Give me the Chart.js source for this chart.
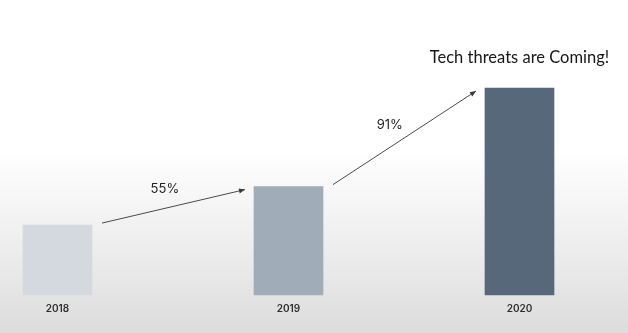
<!DOCTYPE html>
<html>
<head>
<meta charset="utf-8">
<script src="https://cdn.jsdelivr.net/npm/chart.js@4.4.1/dist/chart.umd.min.js"></script>
<style>
  html, body { margin: 0; padding: 0; }
  body {
    width: 628px; height: 333px; overflow: hidden;
    background: linear-gradient(to bottom, #ffffff 0px, #ffffff 150px, #e9e9e9 270px, #dcdcdc 333px);
  }
  #wrap { position: relative; width: 628px; height: 333px; }
</style>
</head>
<body>
<div id="wrap"><canvas id="c" width="628" height="333"></canvas></div>
<script>
const categories = ['2018', '2019', '2020'];
const values = [100, 155, 296];
const growthLabels = ['55%', '91%'];
const headline = 'Tech threats are Coming!';
const barTopColors = ['#d4d9df', '#a0acb7', '#56687a'];
const barBottomColors = ['#c9ced4', '#8d99a4', '#4b5b6b'];

function barGradient(ctx) {
  const chart = ctx.chart;
  const area = chart.chartArea;
  const i = ctx.dataIndex;
  if (!area || i === undefined) return barTopColors[i || 0];
  const meta = chart.getDatasetMeta(0);
  const el = meta.data[i];
  const top = el ? el.y : area.top;
  const bottom = el ? el.base : area.bottom;
  if (!isFinite(top) || !isFinite(bottom) || top === bottom) return barTopColors[i];
  const g = chart.ctx.createLinearGradient(0, top, 0, bottom);
  g.addColorStop(0, barTopColors[i]);
  g.addColorStop(1, barBottomColors[i]);
  return g;
}

const annotate = {
  id: 'annotate',
  afterDatasetsDraw(chart) {
    const ctx = chart.ctx;
    const bars = chart.getDatasetMeta(0).data;
    ctx.save();
    for (let i = 0; i < bars.length - 1; i++) {
      const a = bars[i], b = bars[i + 1];
      const x1 = a.x + a.width / 2 + 10, y1 = a.y - 2;
      const x2 = b.x - b.width / 2 - 9, y2 = b.y + 3;
      ctx.strokeStyle = '#4a4a4a';
      ctx.fillStyle = '#3a3a3a';
      ctx.lineWidth = 1;
      ctx.beginPath();
      ctx.moveTo(x1, y1);
      ctx.lineTo(x2, y2);
      ctx.stroke();
      const ang = Math.atan2(y2 - y1, x2 - x1);
      const L = 6, W = 2.5;
      ctx.beginPath();
      ctx.moveTo(x2, y2);
      ctx.lineTo(x2 - L * Math.cos(ang) + W * Math.sin(ang), y2 - L * Math.sin(ang) - W * Math.cos(ang));
      ctx.lineTo(x2 - L * Math.cos(ang) - W * Math.sin(ang), y2 - L * Math.sin(ang) + W * Math.cos(ang));
      ctx.closePath();
      ctx.fill();
      const len = Math.hypot(x2 - x1, y2 - y1);
      const dx = (x2 - x1) / len, dy = (y2 - y1) / len;
      const t = 0.47, off = 19;
      const px = x1 + (x2 - x1) * t + dy * off;
      const py = y1 + (y2 - y1) * t - dx * off;
      ctx.font = '13px Inter, "Noto Sans", sans-serif';
      ctx.fillStyle = '#1f1f1f';
      ctx.textAlign = 'center';
      ctx.textBaseline = 'middle';
      ctx.fillText(growthLabels[i], px, py);
    }
    const last = bars[bars.length - 1];
    ctx.font = '16.5px Lato, "Open Sans", sans-serif';
    ctx.fillStyle = '#161616';
    ctx.textAlign = 'center';
    ctx.textBaseline = 'middle';
    ctx.fillText(headline, last.x, last.y - 30);
    ctx.restore();
  }
};

new Chart(document.getElementById('c'), {
  type: 'bar',
  data: {
    labels: categories,
    datasets: [{
      data: values,
      backgroundColor: barGradient,
      borderWidth: 0,
      barThickness: 69,
      clip: false
    }]
  },
  options: {
    responsive: false,
    animation: false,
    devicePixelRatio: 1,
    layout: { padding: { top: 88, bottom: 10, left: 57.5, right: 108.5 } },
    plugins: { legend: { display: false }, tooltip: { enabled: false }, title: { display: false } },
    scales: {
      x: {
        offset: false,
        grid: { display: false, drawTicks: false },
        border: { display: false },
        ticks: {
          padding: 8,
          color: '#2e2e2e',
          font: { family: 'Inter, "Noto Sans", sans-serif', size: 10, weight: '600' }
        }
      },
      y: {
        display: false,
        min: 0,
        max: 296
      }
    }
  },
  plugins: [annotate]
});
</script>
</body>
</html>
